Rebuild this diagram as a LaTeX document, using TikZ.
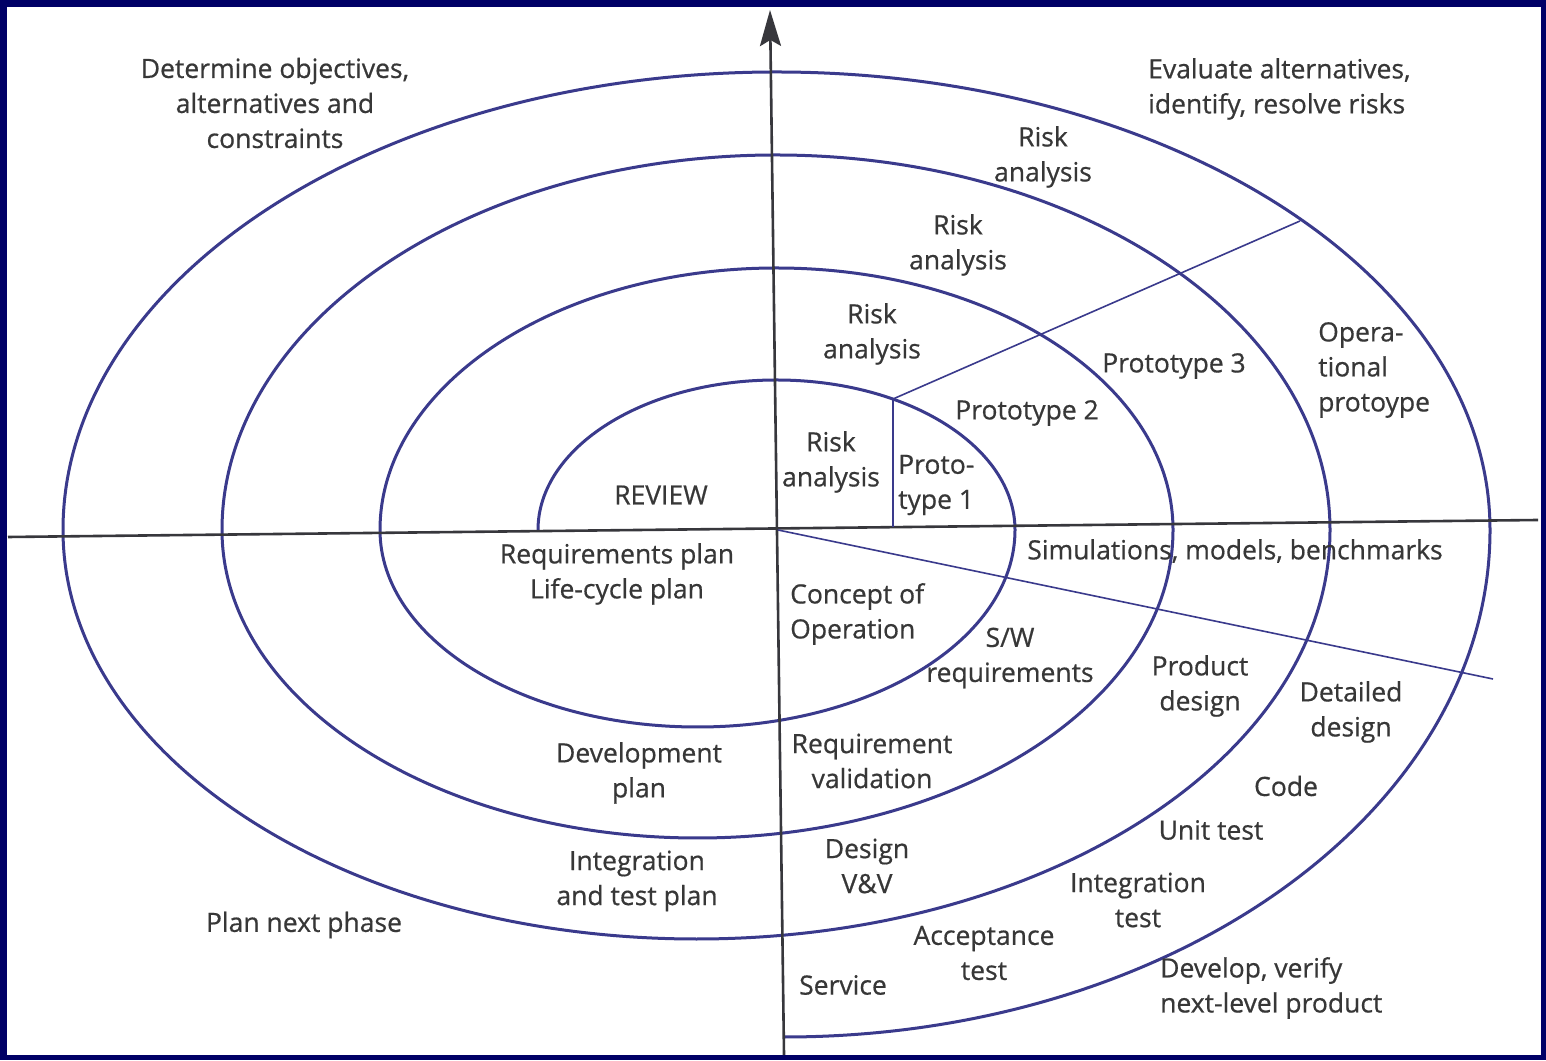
\documentclass[tikz,border=0pt]{standalone}
\usepackage{fontspec}
\setmainfont[FakeBold=0.6]{Open Sans}
\usetikzlibrary{arrows.meta}
\definecolor{navy}{RGB}{0,0,102}
\definecolor{ring}{RGB}{58,58,140}
\definecolor{axis}{RGB}{55,55,60}
\definecolor{txt}{RGB}{55,55,55}
\newcommand\lblfont{\fontsize{26.5}{35}\selectfont}
\tikzset{
  lbl/.style={font=\lblfont, text=txt, inner sep=0pt, align=center},
  lbll/.style={font=\lblfont, text=txt, inner sep=0pt, align=left, anchor=west},
  ringline/.style={draw=ring, line width=3pt},
  thinring/.style={draw=ring, line width=1.6pt},
  axisline/.style={draw=axis, line width=2.6pt}
}
\begin{document}
\begin{tikzpicture}[x=1pt,y=1pt]
\useasboundingbox (0,0) rectangle (1546,1060);
\fill[navy] (0,0) rectangle (1546,1060);
\fill[white] (7,5) rectangle (1541,1053);
% spiral
\coordinate (s0) at (538,530);
\draw[ringline] (s0) arc[start angle=180,end angle=0,x radius=238.5pt,y radius=150pt]
  arc[start angle=0,end angle=-180,x radius=317.5pt,y radius=197pt]
  arc[start angle=180,end angle=0,x radius=396.5pt,y radius=262pt]
  arc[start angle=0,end angle=-180,x radius=475.5pt,y radius=308pt]
  arc[start angle=180,end angle=0,x radius=554pt,y radius=375pt]
  arc[start angle=0,end angle=-180,x radius=633.5pt,y radius=409pt]
  arc[start angle=180,end angle=0,x radius=713.5pt,y radius=458pt]
  arc[start angle=0,end angle=-90,x radius=706pt,y radius=507pt];
% axes
\coordinate (hl) at (8,523);
\coordinate (hr) at (1538,540);
\coordinate (vb) at (784,5);
\coordinate (vt) at (770,1050);
\coordinate (c) at (778,530);
\draw[axisline] (hl) -- (hr);
\draw[axisline, -{Stealth[length=36pt,width=21pt,inset=6pt]}] (vb) -- (vt);
% separator lines
\coordinate (p1) at (893,661);
\coordinate (p1b) at (893,533);
\coordinate (p3) at (1300,839);
\coordinate (q) at (1493,381);
\draw[thinring] (p1) -- (p1b);
\draw[thinring] (p1) -- (p3);
\draw[thinring] (c) -- (q);
% labels
\node[lbl] (det) at (275,957) {Determine objectives,\\alternatives and\\constraints};
\node[lbll] (eval) at (1148,971) {Evaluate alternatives,\\identify, resolve risks};
\node[lbl] (ra4) at (1043,903) {Risk\\analysis};
\node[lbl] (ra3) at (958,815) {Risk\\analysis};
\node[lbl] (ra2) at (872,726) {Risk\\analysis};
\node[lbl] (ra1) at (831,598) {Risk\\analysis};
\node[lbl] (rev) at (661,565) {REVIEW};
\node[lbll] (pr1) at (898,575) {Proto-\\type 1};
\node[lbl] (pr2) at (1027,647) {Prototype 2};
\node[lbl] (pr3) at (1174,694) {Prototype 3};
\node[lbll] (opr) at (1318,690) {Opera-\\tional\\protoype};
\node[lbl] (sim) at (1235,509) {Simulations, models, benchmarks};
\node[lbl] (rqp) at (617,486) {Requirements plan\\Life-cycle plan};
\node[lbll] (con) at (790,446) {Concept of\\Operation};
\node[lbl] (sw) at (1010,402) {S/W\\requirements};
\node[lbl] (pd) at (1200,374) {Product\\design};
\node[lbl] (dd) at (1351,348) {Detailed\\design};
\node[lbl] (dp) at (639,287) {Development\\plan};
\node[lbl] (rv) at (872,299) {Requirement\\validation};
\node[lbl] (code) at (1286,274) {Code};
\node[lbl] (ut) at (1211,230) {Unit test};
\node[lbl] (dvv) at (867,194) {Design\\V\&V};
\node[lbl] (itp) at (637,179) {Integration\\and test plan};
\node[lbl] (it) at (1138,160) {Integration\\test};
\node[lbl] (pnp) at (304,135) {Plan next phase};
\node[lbl] (at) at (984,107) {Acceptance\\test};
\node[lbl] (srv) at (843,75) {Service};
\node[lbll] (dev) at (1160,72) {Develop, verify\\next-level product};
\end{tikzpicture}
\end{document}
